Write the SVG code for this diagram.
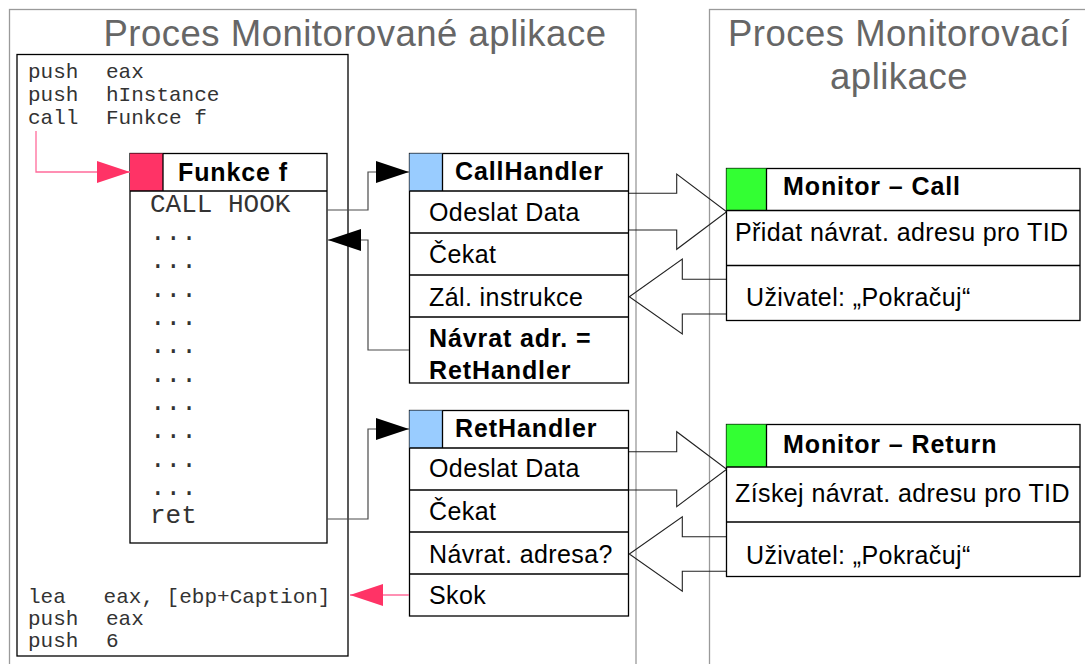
<svg xmlns="http://www.w3.org/2000/svg" width="1085" height="664" viewBox="0 0 1085 664">
  <defs>
    <style>
      .panel { fill: none; stroke: #9a9a9a; stroke-width: 1.3; }
      .title { font-family: "Liberation Sans", Arial, sans-serif; font-size: 36.5px; fill: #666666; letter-spacing: 0.5px; text-anchor: middle; }
      .box { fill: #ffffff; stroke: #000000; stroke-width: 1.3; }
      .sep { stroke: #000000; stroke-width: 1.3; fill: none; }
      .code { font-family: "Liberation Mono", "Courier New", monospace; font-size: 21px; fill: #333333; white-space: pre; }
      .code-big { font-family: "Liberation Mono", "Courier New", monospace; font-size: 26px; fill: #333333; }
      .lbl { font-family: "Liberation Sans", Arial, sans-serif; font-size: 25px; fill: #000000; letter-spacing: 0.4px; }
      .hdr { font-family: "Liberation Sans", Arial, sans-serif; font-size: 25px; font-weight: bold; fill: #000000; letter-spacing: 0.9px; }
      .link { fill: none; stroke: #4a4a4a; stroke-width: 1.2; }
      .link-pink { fill: none; stroke: #ff6b9a; stroke-width: 1.3; }
      .block { fill: none; stroke: #222222; stroke-width: 1.1; stroke-linejoin: miter; }
      .pink { fill: #ff3366; }
      .blue { fill: #99ccff; }
      .green { fill: #33ff33; }
    </style>
    <marker id="head-black" markerUnits="userSpaceOnUse" markerWidth="34" markerHeight="22" viewBox="0 0 33 22" refX="33" refY="11" orient="auto">
      <path d="M0,0 L33,11 L0,22 Z" fill="#000000"/>
    </marker>
    <marker id="head-pink" markerUnits="userSpaceOnUse" markerWidth="34" markerHeight="22" viewBox="0 0 33 22" refX="33" refY="11" orient="auto">
      <path d="M0,0 L33,11 L0,22 Z" fill="#ff3366"/>
    </marker>
  </defs>

  <rect width="1085" height="664" fill="#ffffff"/>

  <!-- process panels -->
  <g id="panel-monitored">
    <rect class="panel" x="9.5" y="9.5" width="626.5" height="700"/>
    <text class="title" x="355" y="46">Proces Monitorované aplikace</text>
  </g>
  <g id="panel-monitor">
    <rect class="panel" x="709.5" y="9.5" width="420" height="700"/>
    <text class="title" x="899" y="46">Proces Monitorovací</text>
    <text class="title" x="899" y="89">aplikace</text>
  </g>

  <!-- caller code listing -->
  <g id="caller-code">
    <rect class="box" x="17" y="54.5" width="331" height="601.5"/>
    <text class="code" y="78"><tspan x="28">push</tspan><tspan x="106">eax</tspan></text>
    <text class="code" y="101"><tspan x="28">push</tspan><tspan x="106">hInstance</tspan></text>
    <text class="code" y="124"><tspan x="28">call</tspan><tspan x="106">Funkce f</tspan></text>
    <text class="code" x="28" y="603">lea   eax, [ebp+Caption]</text>
    <text class="code" y="625"><tspan x="28">push</tspan><tspan x="106">eax</tspan></text>
    <text class="code" y="647"><tspan x="28">push</tspan><tspan x="106">6</tspan></text>
  </g>

  <!-- hooked function -->
  <g id="funkce-f">
    <rect class="box" x="130" y="153.5" width="197" height="389.5"/>
    <rect class="pink" x="130" y="153.5" width="33" height="37.5"/>
    <path class="sep" d="M130,191 H327 M163,153.5 V191"/>
    <text class="hdr" x="178" y="181">Funkce f</text>
    <text class="code-big" x="150" y="212">CALL HOOK</text>
    <text class="code-big" x="150" y="240">...</text>
    <text class="code-big" x="150" y="268.3">...</text>
    <text class="code-big" x="150" y="296.7">...</text>
    <text class="code-big" x="150" y="325">...</text>
    <text class="code-big" x="150" y="353.3">...</text>
    <text class="code-big" x="150" y="381.7">...</text>
    <text class="code-big" x="150" y="410">...</text>
    <text class="code-big" x="150" y="438.3">...</text>
    <text class="code-big" x="150" y="466.7">...</text>
    <text class="code-big" x="150" y="495">...</text>
    <text class="code-big" x="150" y="523.3">ret</text>
  </g>

  <!-- block arrows between processes -->
  <g id="messages">
    <polyline class="block" points="629,193.3 676.7,193.3 676.7,174 726.7,211.7 676.7,249.3 676.7,230 629,230"/>
    <polyline class="block" points="726.7,279.3 682.3,279.3 682.3,259 629.3,296.7 682.3,334 682.3,314 726.7,314"/>
    <polyline class="block" points="629,451.7 676.7,451.7 676.7,431.7 726.7,469.3 676.7,506.7 676.7,490 629,490"/>
    <polyline class="block" points="726.7,536.7 682.3,536.7 682.3,516.7 629.3,554 682.3,591.3 682.3,571.3 726.7,571.3"/>
  </g>

  <!-- call handler -->
  <g id="call-handler">
    <rect class="box" x="409.5" y="153.5" width="219" height="229.5"/>
    <rect class="blue" x="409.5" y="153.5" width="33" height="37.5"/>
    <path class="sep" d="M409.5,191 H628.5 M442.5,153.5 V191 M409.5,233 H628.5 M409.5,275 H628.5 M409.5,317 H628.5"/>
    <text class="hdr" x="455" y="180">CallHandler</text>
    <text class="lbl" x="429" y="221">Odeslat Data</text>
    <text class="lbl" x="429" y="263">Čekat</text>
    <text class="lbl" x="429" y="305.5">Zál. instrukce</text>
    <text class="hdr" x="429" y="347">Návrat adr. =</text>
    <text class="hdr" x="429" y="379">RetHandler</text>
  </g>

  <!-- return handler -->
  <g id="ret-handler">
    <rect class="box" x="409.5" y="410.5" width="219" height="205.5"/>
    <rect class="blue" x="409.5" y="410.5" width="33" height="37.5"/>
    <path class="sep" d="M409.5,448 H628.5 M442.5,410.5 V448 M409.5,490 H628.5 M409.5,532 H628.5 M409.5,574 H628.5"/>
    <text class="hdr" x="455" y="437">RetHandler</text>
    <text class="lbl" x="429" y="477">Odeslat Data</text>
    <text class="lbl" x="429" y="520">Čekat</text>
    <text class="lbl" x="429" y="562.5">Návrat. adresa?</text>
    <text class="lbl" x="429" y="604">Skok</text>
  </g>

  <!-- monitor: call -->
  <g id="monitor-call">
    <rect class="box" x="726.5" y="168.5" width="353.5" height="152"/>
    <rect class="green" x="726.5" y="168.5" width="40" height="42"/>
    <path class="sep" d="M726.5,210.5 H1080 M766.5,168.5 V210.5 M726.5,265.5 H1080"/>
    <text class="hdr" x="783" y="195">Monitor – Call</text>
    <text class="lbl" x="735" y="241">Přidat návrat. adresu pro TID</text>
    <text class="lbl" x="746" y="306">Uživatel: „Pokračuj“</text>
  </g>

  <!-- monitor: return -->
  <g id="monitor-return">
    <rect class="box" x="726.5" y="424.5" width="353.5" height="152"/>
    <rect class="green" x="726.5" y="424.5" width="40" height="42.5"/>
    <path class="sep" d="M726.5,467 H1080 M766.5,424.5 V467 M726.5,522 H1080"/>
    <text class="hdr" x="783" y="453">Monitor – Return</text>
    <text class="lbl" x="735" y="502">Získej návrat. adresu pro TID</text>
    <text class="lbl" x="746" y="564">Uživatel: „Pokračuj“</text>
  </g>

  <!-- control-flow connectors -->
  <g id="connectors">
    <path class="link-pink" d="M36,131 V172 H130" marker-end="url(#head-pink)"/>
    <path class="link" d="M327,210 H368 V172 H409" marker-end="url(#head-black)"/>
    <path class="link" d="M409,350 H368 V240 H328" marker-end="url(#head-black)"/>
    <path class="link" d="M327,519 H368 V429 H409" marker-end="url(#head-black)"/>
    <path class="link-pink" d="M409,595 H350" marker-end="url(#head-pink)"/>
  </g>
</svg>
